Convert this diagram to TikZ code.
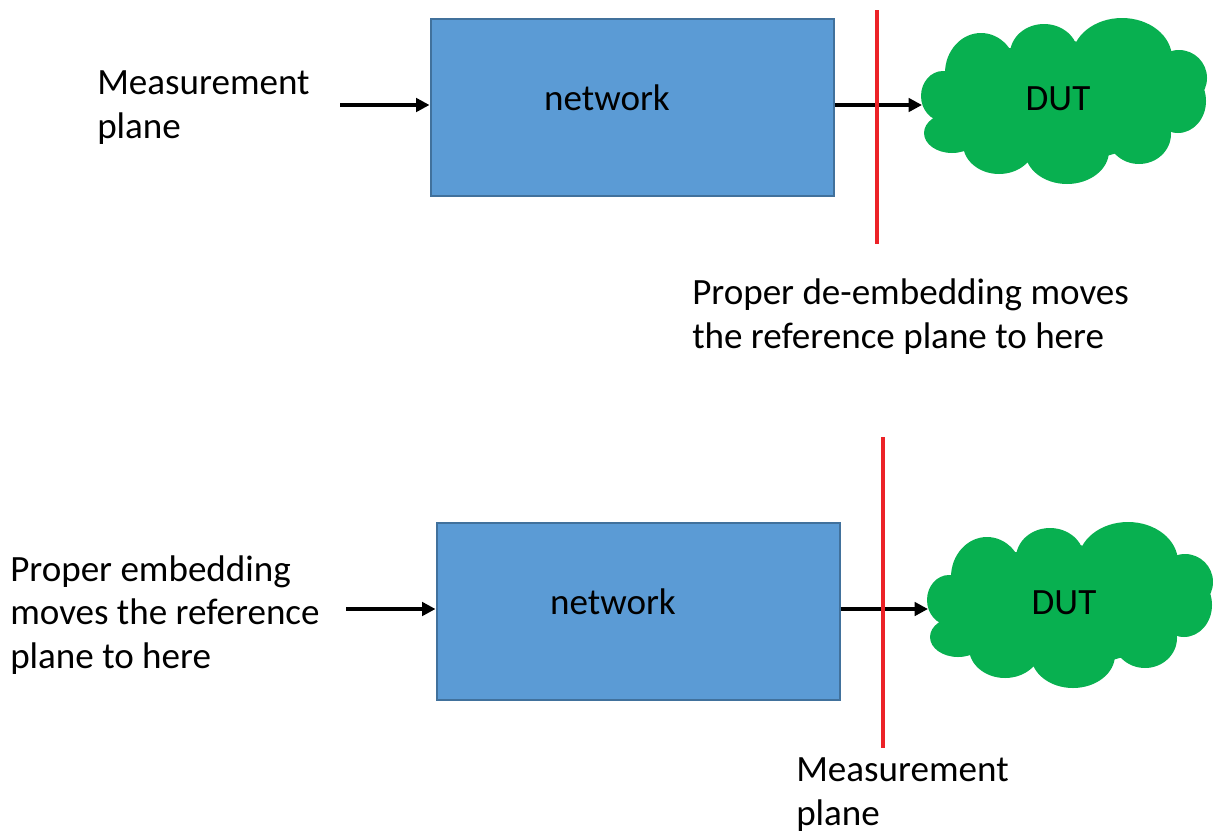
\documentclass[tikz,border=0pt]{standalone}
\usepackage{fontspec}
\setmainfont{Carlito}
\usetikzlibrary{arrows.meta}
\definecolor{boxfill}{RGB}{91,155,213}
\definecolor{boxline}{RGB}{65,113,156}
\definecolor{cloudgreen}{RGB}{8,176,80}
\definecolor{planered}{RGB}{236,34,39}
\tikzset{
  netbox/.style={draw=boxline, fill=boxfill, line width=1.5pt, rectangle},
  lbl/.style={font=\fontsize{27.8}{32.3}\selectfont, inner sep=0pt, align=left},
  conn/.style={line width=3.4pt, -{Triangle[length=10pt,width=10pt]}},
  plane/.style={draw=planered, line width=3.3pt},
  cloud/.pic={
    \fill[cloudgreen]
      (0,0) ellipse [x radius=110, y radius=60]
      (-81,-28) ellipse [x radius=36, y radius=40]
      (-18,-47) ellipse [x radius=34, y radius=30]
      (60,-43) ellipse [x radius=50, y radius=40]
      (117,-23) ellipse [x radius=28, y radius=28]
      (116,0) ellipse [x radius=28, y radius=32]
      (77,33) ellipse [x radius=32, y radius=30]
      (5,50) ellipse [x radius=42, y radius=33]
      (-63,43) ellipse [x radius=36, y radius=30]
      (-110,32) ellipse [x radius=28, y radius=20]
      (-119,-5) ellipse [x radius=22, y radius=25];
  }
}
\begin{document}
\begin{tikzpicture}[x=0.75pt, y=-0.75pt]
\useasboundingbox (0,0) rectangle (1213,832);
% ---------- top diagram ----------
\node[netbox, minimum width=403*0.75pt, minimum height=177*0.75pt, anchor=north west] (net1) at (429.5,17.5) {};
\node[lbl, anchor=base] (net1t) at (607,110) {network};
\pic at (1062,101) {cloud};
\node[lbl, anchor=base] (dut1) at (1058,110) {DUT};
\coordinate (in1) at (340,105);
\coordinate (cl1) at (922,105);
\draw[conn] (in1) -- (net1.west |- in1);
\draw[conn] (net1.east |- cl1) -- (cl1);
\coordinate (p1a) at (877,10);
\coordinate (p1b) at (877,244);
\draw[plane] (p1a) -- (p1b);
\node[lbl, anchor=base west] (mp1) at (97,138) {Measurement\\plane};
\node[lbl, anchor=base west] (de1) at (692,348) {Proper de-embedding moves\\the reference plane to here};
% ---------- bottom diagram ----------
\node[netbox, minimum width=403*0.75pt, minimum height=177*0.75pt, anchor=north west] (net2) at (435.5,521.5) {};
\node[lbl, anchor=base] (net2t) at (613,614) {network};
\pic at (1068,605) {cloud};
\node[lbl, anchor=base] (dut2) at (1064,614) {DUT};
\coordinate (in2) at (346,609);
\coordinate (cl2) at (928,609);
\draw[conn] (in2) -- (net2.west |- in2);
\draw[conn] (net2.east |- cl2) -- (cl2);
\coordinate (p2a) at (883,437);
\coordinate (p2b) at (883,748);
\draw[plane] (p2a) -- (p2b);
\node[lbl, anchor=base west] (em2) at (10,668) {Proper embedding\\moves the reference\\plane to here};
\node[lbl, anchor=base west] (mp2) at (796,825) {Measurement\\plane};
\end{tikzpicture}
\end{document}
